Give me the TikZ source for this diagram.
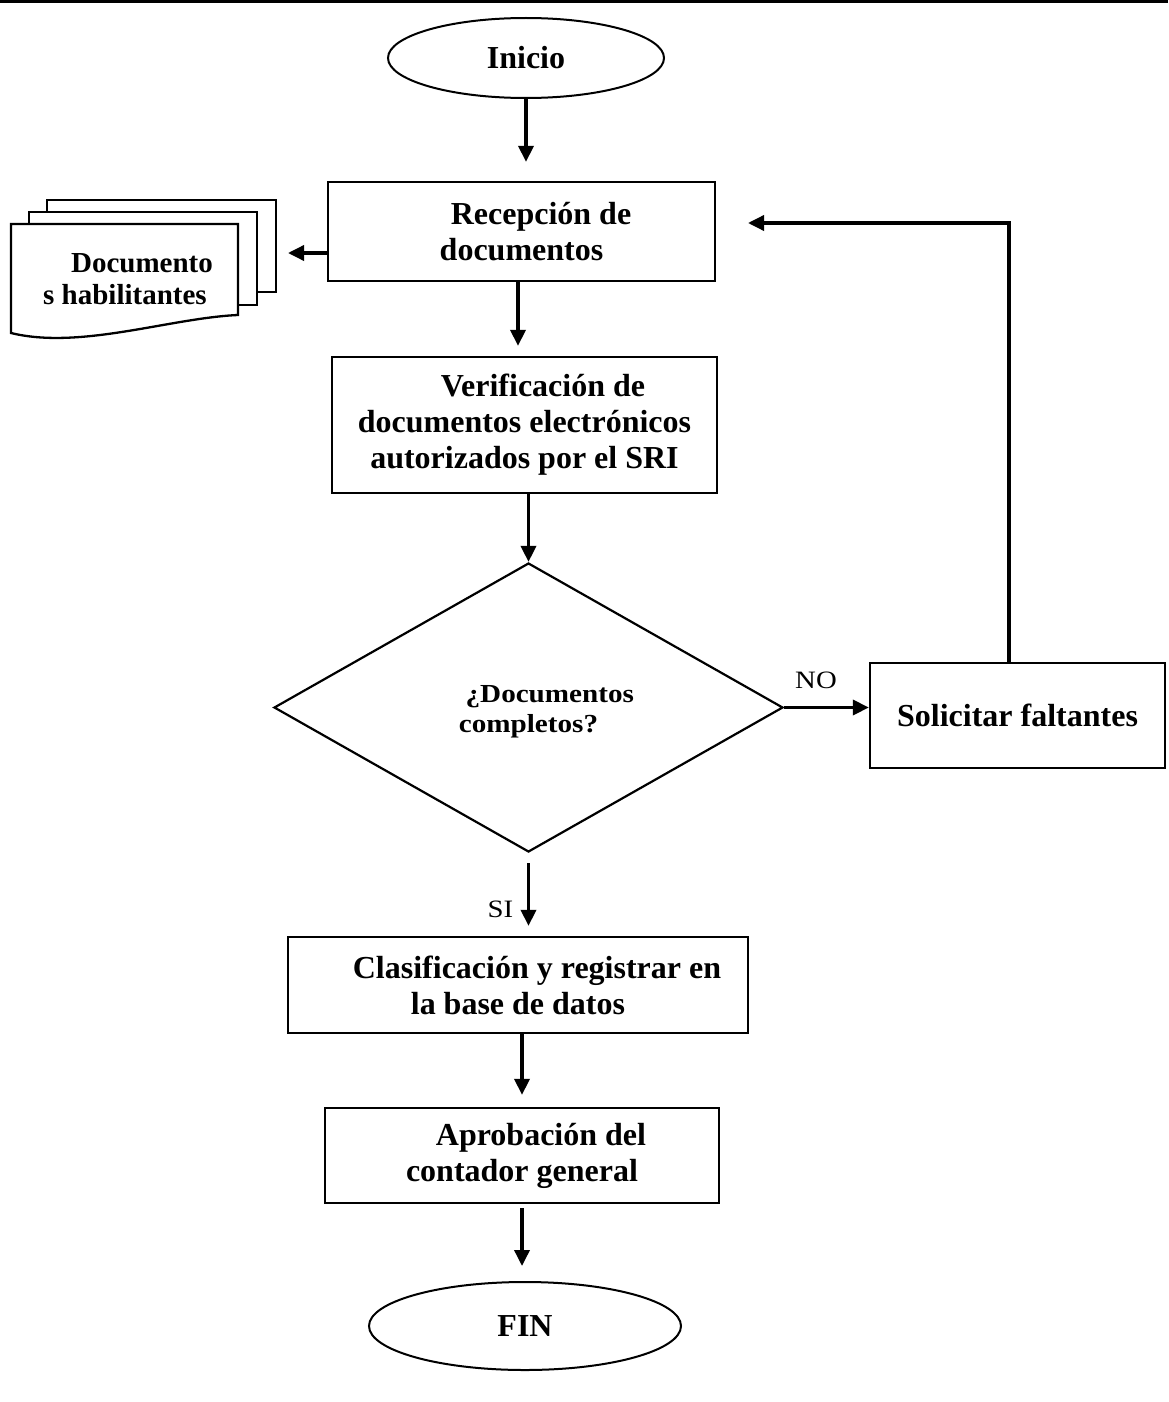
\documentclass[tikz,border=0pt]{standalone}
\usepackage{fontspec}
\setmainfont{Liberation Serif}
\usetikzlibrary{shapes.geometric,arrows.meta}
\begin{document}
\begin{tikzpicture}[x=1pt,y=-1pt,
  box/.style={draw, line width=2.3pt, rectangle, inner sep=0pt, align=center, font=\fontsize{32}{36}\selectfont\bfseries},
  term/.style={draw, line width=2pt, ellipse, inner sep=0pt, font=\fontsize{32}{36}\selectfont\bfseries},
  arr/.style={line width=3.5pt, -{Triangle[length=16pt,width=15pt]}},
  lbl/.style={font=\fontsize{25}{30}\selectfont, inner sep=0pt, anchor=base},
  sheet/.style={draw, line width=2.3pt, fill=white}
]
\useasboundingbox (0,0) rectangle (1168,1402);
\draw[line width=3.5pt] (0,1.75) -- (1168,1.75);

% nodes
\node[term, minimum width=276pt, minimum height=80pt] (inicio) at (526,58) {Inicio};
\node[box, minimum width=387pt, minimum height=99pt] (recep) at (521.5,231.5) {\hspace*{39pt}Recepción de\\documentos};
\node[box, minimum width=385pt, minimum height=136pt] (verif) at (524.5,425) {\hspace*{37pt}Verificación de\\documentos electrónicos\\autorizados por el SRI};
\node[draw, line width=2.2pt, diamond, aspect=1.76, minimum width=509pt, minimum height=289pt, inner sep=0pt] (dec) at (528.5,707.5) {};
\node[font=\fontsize{26}{30}\selectfont\bfseries, inner sep=0pt, anchor=base] (dectext) at (528.5,702)
      {\scalebox{1.12}[1]{\begin{tabular}[t]{@{}c@{}}\hspace*{38pt}¿Documentos\\completos?\end{tabular}}};
\node[box, minimum width=295pt, minimum height=105pt] (soli) at (1017.5,715.5) {Solicitar faltantes};
\node[box, minimum width=460pt, minimum height=96pt] (clas) at (518,985) {\hspace*{38pt}Clasificación y registrar en\\la base de datos};
\node[box, minimum width=394pt, minimum height=95pt] (apro) at (522,1155.5) {\hspace*{38pt}Aprobación del\\contador general};
\node[term, minimum width=312pt, minimum height=88pt] (fin) at (525,1326) {FIN};

% multi-document shape
\draw[sheet] (47,200) rectangle (276,292);
\draw[sheet] (29,212) rectangle (257,305);
\draw[sheet] (11,224) -- (238,224) -- (238,315) .. controls (170,318) and (80,350) .. (11,333) -- cycle;
\node[font=\fontsize{29}{32}\selectfont\bfseries, align=center, inner sep=0pt] (doc) at (125,279) {\hspace*{34pt}Documento\\s habilitantes};
\coordinate (docin) at (288,253);

% labels
\node[lbl] (no) at (816,688) {\scalebox{1.15}[1]{NO}};
\node[lbl] (si) at (500.5,917) {\scalebox{1.15}[1]{SI}};

% connectors
\draw[arr, shorten >=19pt] (inicio.south) -- (inicio.south |- recep.north);
\draw[arr, shorten >=10pt] ([xshift=-3.5pt]recep.south) -- ([xshift=-3.5pt]recep.south |- verif.north);
\draw[arr] (verif.south -| dec.north) -- (dec.north);
\draw[arr, shorten <=10pt, shorten >=10pt] (dec.south) -- (dec.south |- clas.north);
\draw[arr, shorten >=12pt] ([xshift=4pt]clas.south) -- ([xshift=4pt]clas.south |- apro.north);
\draw[arr, shorten <=4pt, shorten >=15pt] (apro.south) -- (apro.south |- fin.north);
\draw[arr] (dec.east) -- (dec.east -| soli.west);
\coordinate (back) at (748,223);
\draw[arr] ([xshift=-8.5pt]soli.north) |- (back);
\draw[arr] (recep.west |- docin) -- (docin);
\end{tikzpicture}
\end{document}
